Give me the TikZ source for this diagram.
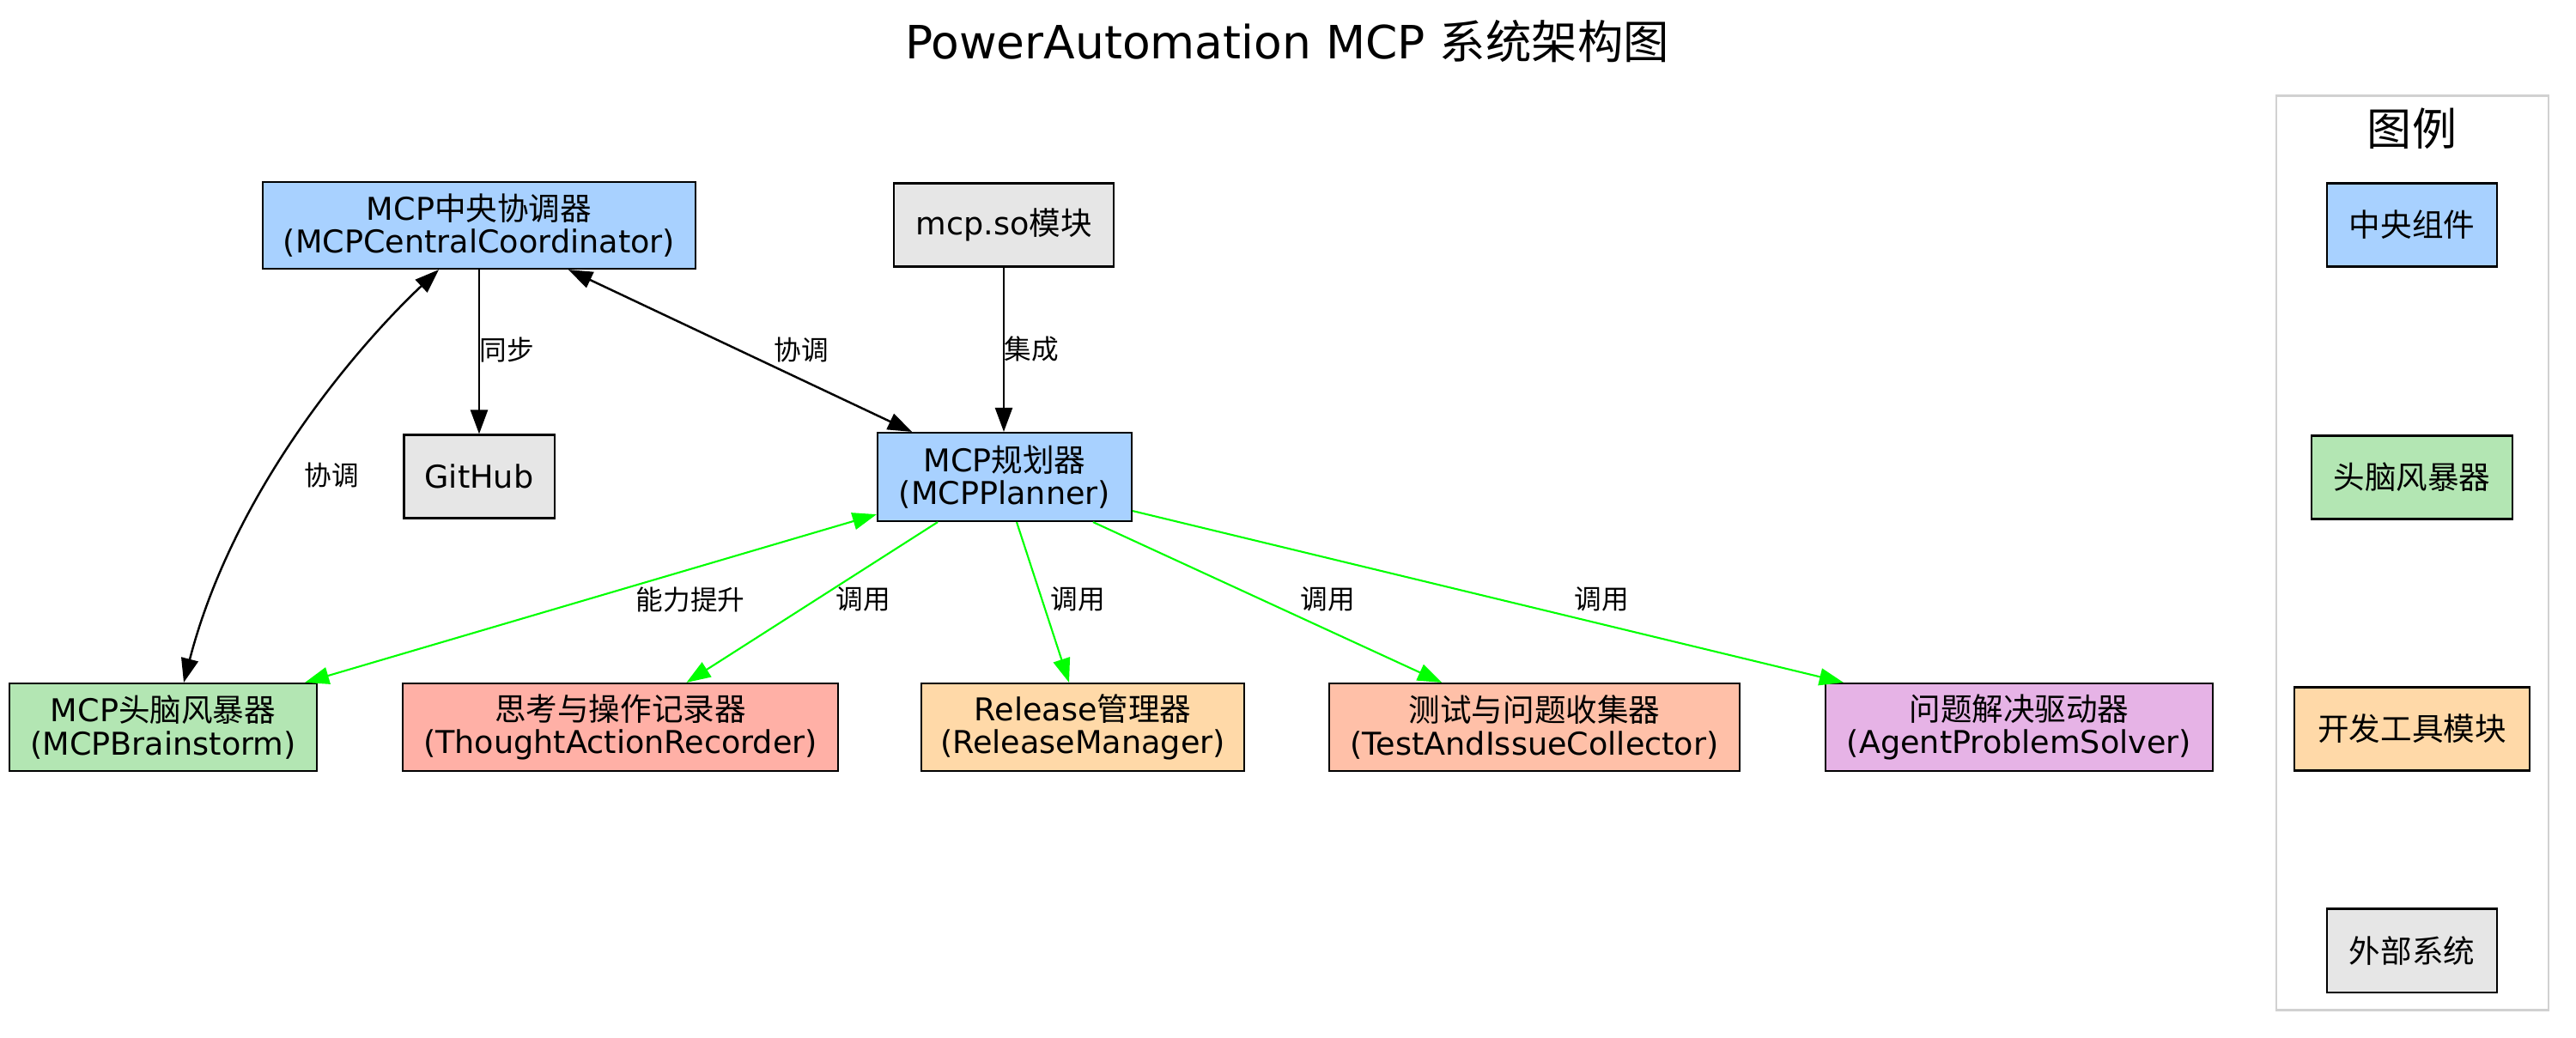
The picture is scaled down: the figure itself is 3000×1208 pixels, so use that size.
\documentclass[tikz,border=0pt]{standalone}
\usepackage{fontspec}
\setmainfont{DejaVu Sans}
\newfontfamily\cjk{Noto Sans CJK SC}
\newfontfamily\cjkL{Noto Sans CJK SC}
\usetikzlibrary{arrows.meta,calc}
\definecolor{cblue}{HTML}{A8D1FF}
\definecolor{cgreen}{HTML}{B3E6B3}
\definecolor{corange}{HTML}{FFD9A8}
\definecolor{csalmon}{HTML}{FFB0A6}
\definecolor{cpeach}{HTML}{FFC0A8}
\definecolor{cpurple}{HTML}{E6B3E6}
\definecolor{cgray}{HTML}{E6E6E6}
\definecolor{cgreenline}{HTML}{00FF00}
\tikzset{
  box/.style={draw=black, line width=0.6pt, inner sep=0pt, align=center,
    font=\fontsize{10.4}{10.9}\selectfont},
  lbl/.style={inner sep=0pt, font=\fontsize{9}{10}\selectfont},
  edge/.style={draw=black, line width=0.7pt},
  gedge/.style={draw=cgreenline, line width=0.6pt, fill=cgreenline},
}
\begin{document}
\begin{tikzpicture}[x=0.01cm,y=-0.01cm,>={Triangle[length=2.8mm,width=2mm]}]
\useasboundingbox (0,0) rectangle (3000,1208);
% title
\node[inner sep=0pt, font=\fontsize{15.2}{17}\selectfont] (title) at (1499,48) {PowerAutomation MCP {\cjkL 系统架构图}};
% nodes
\node[box, fill=cblue, minimum width=5.04cm, minimum height=1.01cm] (coord) at (558,262.5) {MCP{\cjk 中央协调器}\\(MCPCentralCoordinator)};
\node[box, fill=cgray, minimum width=2.56cm, minimum height=0.97cm] (mcpso) at (1169,262) {mcp.so{\cjk 模块}};
\node[box, fill=cgray, minimum width=1.75cm, minimum height=0.97cm] (github) at (558,555) {GitHub};
\node[box, fill=cblue, minimum width=2.96cm, minimum height=1.03cm] (planner) at (1170,555.5) {MCP{\cjk 规划器}\\(MCPPlanner)};
\node[box, fill=cgreen, minimum width=3.58cm, minimum height=1.02cm] (brain) at (190,847) {MCP{\cjk 头脑风暴器}\\(MCPBrainstorm)};
\node[box, fill=csalmon, minimum width=5.07cm, minimum height=1.02cm] (thought) at (722.5,847) {{\cjk 思考与操作记录器}\\(ThoughtActionRecorder)};
\node[box, fill=corange, minimum width=3.76cm, minimum height=1.02cm] (release) at (1261,847) {Release{\cjk 管理器}\\(ReleaseManager)};
\node[box, fill=cpeach, minimum width=4.78cm, minimum height=1.02cm] (test) at (1787,847) {{\cjk 测试与问题收集器}\\(TestAndIssueCollector)};
\node[box, fill=cpurple, minimum width=4.51cm, minimum height=1.02cm] (agent) at (2351.5,847) {{\cjk 问题解决驱动器}\\(AgentProblemSolver)};
% legend
\node[draw=black!18, line width=0.7pt, minimum width=3.17cm, minimum height=10.64cm, inner sep=0pt] (legend) at (2809.5,644) {};
\node[inner sep=0pt, font=\fontsize{14.8}{16}\selectfont] (legtitle) at (2809,150) {\cjkL 图例};
\node[box, fill=cblue, minimum width=1.98cm, minimum height=0.97cm, font=\fontsize{10.4}{11}\cjkL] (lg1) at (2809,262) {中央组件};
\node[box, fill=cgreen, minimum width=2.34cm, minimum height=0.97cm, font=\fontsize{10.4}{11}\cjkL] (lg2) at (2809,556) {头脑风暴器};
\node[box, fill=corange, minimum width=2.74cm, minimum height=0.97cm, font=\fontsize{10.4}{11}\cjkL] (lg3) at (2809,849) {开发工具模块};
\node[box, fill=cgray, minimum width=1.98cm, minimum height=0.97cm, font=\fontsize{10.4}{11}\cjkL] (lg4) at (2809,1107) {外部系统};
% black edges
\draw[edge,<->] ($(coord.south)+(-47,0)$) .. controls (430,390) and (275,560) .. ($(brain.north)+(24,0)$);
\draw[edge,->] (coord.south) -- (github.north);
\draw[edge,<->] ($(coord.south)+(104,0)$) -- ($(planner.north)+(-108,0)$);
\draw[edge,->] (mcpso.south) -- ($(planner.north)+(-1,0)$);
% green edges
\draw[gedge,<->] ($(planner.south west)+(0,-9)$) -- ($(brain.north east)+(-15,0)$);
\draw[gedge,->] ($(planner.south)+(-78,0)$) -- ($(thought.north)+(77,0)$);
\draw[gedge,->] ($(planner.south)+(14,0)$) -- ($(release.north)+(-16,0)$);
\draw[gedge,->] ($(planner.south)+(103,0)$) -- ($(test.north)+(-108,0)$);
\draw[gedge,->] ($(planner.south east)+(0,-13)$) -- ($(agent.north west)+(22,0)$);
% labels
\node[lbl] (l1) at (590,407) {\cjk 同步};
\node[lbl] (l2) at (933,407) {\cjk 协调};
\node[lbl] (l3) at (1201,407) {\cjk 集成};
\node[lbl] (l4) at (386,553) {\cjk 协调};
\node[lbl] (l5) at (804,698) {\cjk 能力提升};
\node[lbl] (l6) at (1005,698) {\cjk 调用};
\node[lbl] (l7) at (1255,698) {\cjk 调用};
\node[lbl] (l8) at (1546,698) {\cjk 调用};
\node[lbl] (l9) at (1865,698) {\cjk 调用};
\end{tikzpicture}
\end{document}
